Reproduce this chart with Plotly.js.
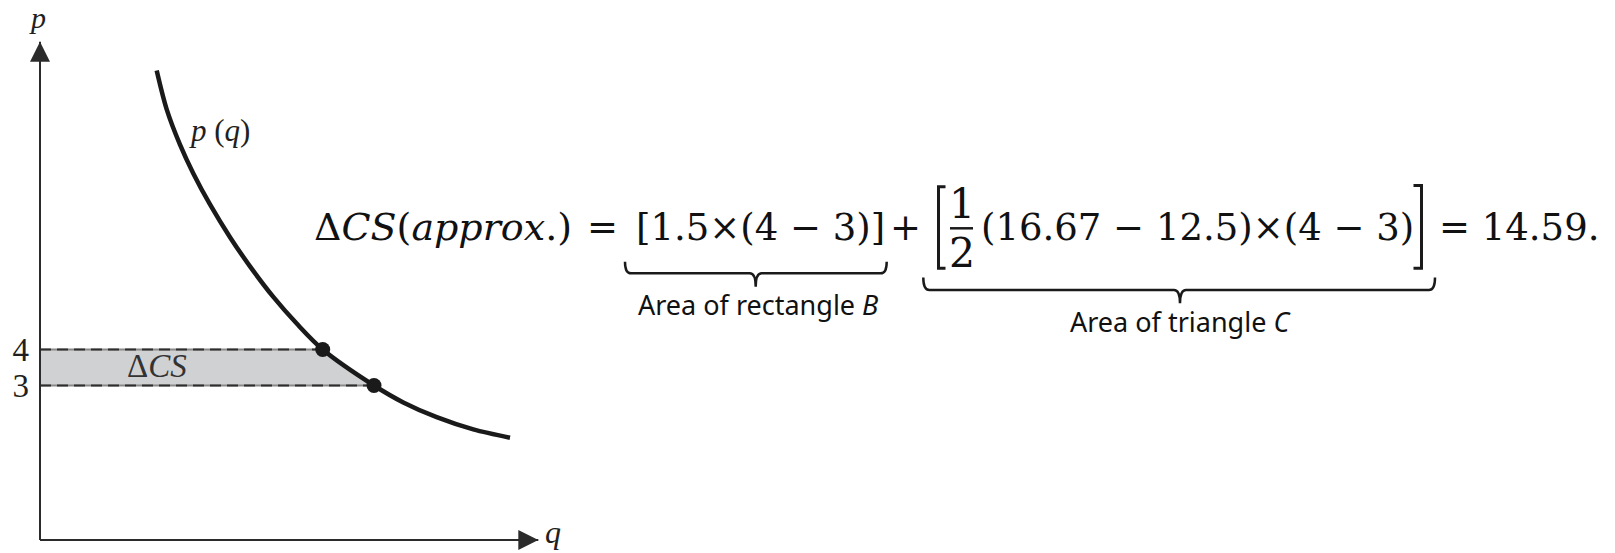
<!DOCTYPE html>
<html>
<head>
<meta charset="utf-8">
<script src="https://cdn.plot.ly/plotly-3.0.1.min.js"></script>
<style>
  html, body { margin: 0; padding: 0; background: #fff; }
  #chart { width: 1615px; height: 553px; }
</style>
</head>
<body>
<div id="chart"></div>
<script>
// Demand curve p(q), sampled along its length
const qCurve = [11.67, 12.67, 14.0, 15.33, 17.0, 19.0, 21.0, 23.33, 25.67, 28.27, 33.4, 36.33, 39.67, 43.33, 47.0];
const pCurve = [11.75, 10.67, 9.69, 8.89, 8.03, 7.12, 6.31, 5.46, 4.72, 4.00, 3.00, 2.53, 2.12, 1.78, 1.55];

// The two prices compared and the quantities demanded at each
const priceTicks = [3, 4];
const qDots = [28.27, 33.4];
const pDots = [4, 3];

// Figure size and axis extents (q: 10px per unit, p: 36px per unit)
const W = 1615, H = 553;
const xRange = [-4, 157.5];
const yRange = [-1.6528, 13.7083];
const qOrigin = 0, pOrigin = -1.29;
const qAxisEnd = 49.83, pAxisEnd = 12.55;

const px = x => x / W;
const py = y => 1 - y / H;
function pathPx(cmds) {
  // cmds: [letter, x1, y1, x2, y2 ...] in figure pixels, turned into a paper-space path
  return cmds.map(c => {
    const pts = [];
    for (let i = 1; i < c.length; i += 2) pts.push(px(c[i]).toFixed(6) + ',' + py(c[i + 1]).toFixed(6));
    return c[0] + pts.join(' ');
  }).join(' ');
}
function brace(x0, x1, yTop, yLine, xMid, yTip) {
  const r = 6;
  return pathPx([
    ['M', x0, yTop], ['Q', x0, yLine, x0 + r, yLine], ['L', xMid - r, yLine],
    ['Q', xMid, yLine, xMid, yTip], ['Q', xMid, yLine, xMid + r, yLine],
    ['L', x1 - r, yLine], ['Q', x1, yLine, x1, yTop]
  ]);
}

const INK = '#1a1a1a';
const SERIF = 'Liberation Serif, Times New Roman, serif';
const MATH = 'DejaVu Serif, serif';
const SANS = 'Noto Sans, Open Sans, sans-serif';

// shaded change in consumer surplus: from the p axis to the curve, between the two prices
const shade = {
  x: [qOrigin, qDots[0], qDots[1], qOrigin],
  y: [pDots[0], pDots[0], pDots[1], pDots[1]],
  type: 'scatter', mode: 'lines', fill: 'toself',
  fillcolor: '#d0d1d3', line: { width: 0 }, hoverinfo: 'skip'
};
const guideBase = pDots.map((p, i) => ({
  x: [qOrigin, qDots[i]], y: [p, p], type: 'scatter', mode: 'lines',
  line: { color: '#8a8a8a', width: 2 }, hoverinfo: 'skip'
}));
const guideDash = pDots.map((p, i) => ({
  x: [qOrigin, qDots[i]], y: [p, p], type: 'scatter', mode: 'lines',
  line: { color: '#2e2e2e', width: 2, dash: '11px,6px' }, hoverinfo: 'skip'
}));
const curve = {
  x: qCurve, y: pCurve, type: 'scatter', mode: 'lines',
  line: { color: INK, width: 4.5, shape: 'spline', smoothing: 0.9 }, hoverinfo: 'skip'
};
const dots = {
  x: qDots, y: pDots, type: 'scatter', mode: 'markers',
  marker: { color: INK, size: 15 }, hoverinfo: 'skip'
};

const axisColor = '#2b2b2b';
const shapes = [
  // p axis and q axis
  { type: 'line', xref: 'x', yref: 'y', x0: qOrigin, y0: pOrigin, x1: qOrigin, y1: pAxisEnd, line: { color: axisColor, width: 2 }, layer: 'above' },
  { type: 'line', xref: 'x', yref: 'y', x0: qOrigin, y0: pOrigin, x1: qAxisEnd, y1: pOrigin, line: { color: axisColor, width: 2 }, layer: 'above' },
  // arrow heads
  { type: 'path', xref: 'x', yref: 'y', xsizemode: 'pixel', ysizemode: 'pixel', xanchor: qOrigin, yanchor: pAxisEnd,
    path: 'M0,0 L-10,-20 L10,-20 Z', fillcolor: axisColor, line: { width: 0 }, layer: 'above' },
  { type: 'path', xref: 'x', yref: 'y', xsizemode: 'pixel', ysizemode: 'pixel', xanchor: qAxisEnd, yanchor: pOrigin,
    path: 'M0,0 L-20,10 L-20,-10 Z', fillcolor: axisColor, line: { width: 0 }, layer: 'above' },
  // large brackets round the triangle term
  { type: 'path', xref: 'paper', yref: 'paper', path: pathPx([['M', 945.5, 186.7], ['L', 938.5, 186.7], ['L', 938.5, 268.3], ['L', 945.5, 268.3]]),
    line: { color: INK, width: 3 } },
  { type: 'path', xref: 'paper', yref: 'paper', path: pathPx([['M', 1413.5, 185.5], ['L', 1421.5, 185.5], ['L', 1421.5, 268.3], ['L', 1413.5, 268.3]]),
    line: { color: INK, width: 3 } },
  // fraction bar of 1/2
  { type: 'line', xref: 'paper', yref: 'paper', x0: px(950), x1: px(973), y0: py(228.3), y1: py(228.3), line: { color: INK, width: 2.5 } },
  // underbraces
  { type: 'path', xref: 'paper', yref: 'paper', path: brace(625, 886.7, 261.7, 273.3, 755.7, 286.7), line: { color: INK, width: 2.5 } },
  { type: 'path', xref: 'paper', yref: 'paper', path: brace(923.3, 1435, 277.5, 290, 1180, 303.3), line: { color: INK, width: 2.5 } }
];

function note(text, x, y, size, family, anchor, color) {
  return { xref: 'paper', yref: 'paper', x: px(x), y: py(y), xanchor: anchor || 'left', yanchor: 'middle',
    text: text, showarrow: false, font: { family: family, size: size, color: color || '#111' } };
}

const annotations = [
  // axis names and curve label
  { xref: 'x', yref: 'paper', x: qOrigin, y: 1, xshift: -2.5, text: '<i>p</i>', showarrow: false, borderpad: 0,
    xanchor: 'center', yanchor: 'top', font: { family: SERIF, size: 30, color: '#231f20' } },
  { xref: 'x', yref: 'y', x: qAxisEnd, y: pOrigin, xshift: 15, yshift: 7.5, text: '<i>q</i>', showarrow: false,
    xanchor: 'center', yanchor: 'middle', font: { family: SERIF, size: 32, color: '#231f20' } },
  note('<i>p</i> (<i>q</i>)', 219, 130.5, 31, SERIF, 'center', '#231f20'),
  note('Δ<i>CS</i>', 156.5, 366.2, 33, SERIF, 'center', '#333'),

  // the approximation of the change in consumer surplus
  note('Δ<i>CS</i>(<i>approx</i>.)', 312, 226.8, 38, MATH),
  note('=', 602.5, 227.2, 37, MATH, 'center'),
  note('[1.5×(4 − 3)]', 633.5, 227.2, 37, MATH),
  note('+', 905, 227.2, 37, MATH, 'center'),
  note('1', 961.5, 204, 41, MATH, 'center'),
  note('2', 961.5, 252.5, 41, MATH, 'center'),
  note('(16.67 − 12.5)×(4 − 3)', 979, 227.2, 37, MATH),
  note('= 14.59.', 1437, 227.2, 37, MATH),

  note('Area of rectangle <i>B</i>', 757.5, 304.5, 27, SANS, 'center'),
  note('Area of triangle <i>C</i>', 1180, 321.5, 27, SANS, 'center')
];

const layout = {
  width: W, height: H,
  margin: { l: 0, r: 0, t: 0, b: 0 },
  paper_bgcolor: '#fff', plot_bgcolor: '#fff',
  showlegend: false,
  xaxis: { range: xRange, visible: false, fixedrange: true },
  yaxis: {
    range: yRange, anchor: 'free', position: px(40),
    showline: false, showgrid: false, zeroline: false, ticks: '',
    tickvals: priceTicks, ticktext: priceTicks.map(String),
    tickfont: { family: SERIF, size: 33, color: '#231f20' },
    ticklabelstandoff: 11, fixedrange: true
  },
  shapes: shapes,
  annotations: annotations
};

Plotly.newPlot('chart', [shade, ...guideBase, ...guideDash, curve, dots], layout, { displayModeBar: false, staticPlot: true });
</script>
</body>
</html>
